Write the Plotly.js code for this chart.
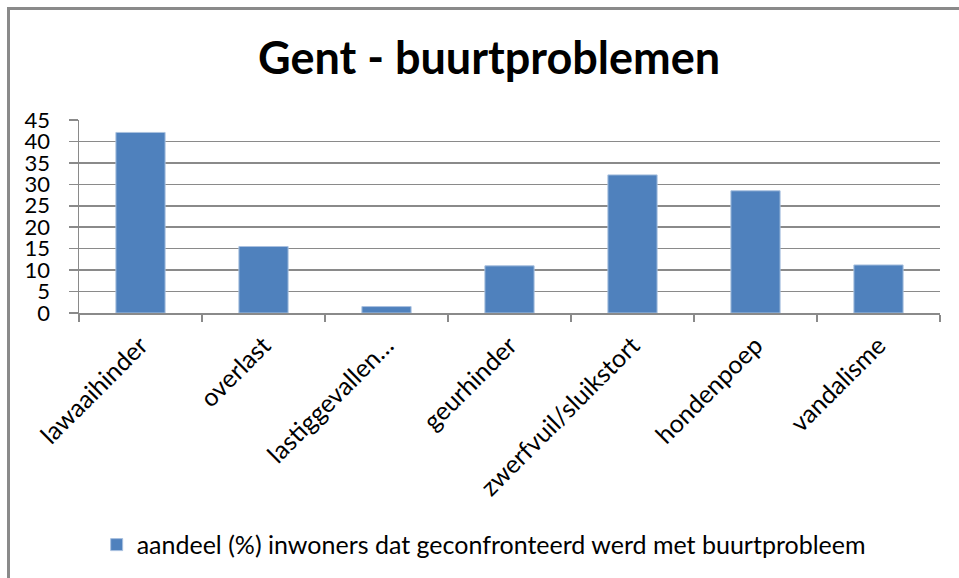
<!DOCTYPE html>
<html>
<head>
<meta charset="utf-8">
<script src="https://cdn.plot.ly/plotly-3.0.1.min.js"></script>
<style>
  html, body { margin: 0; padding: 0; background: #fff; overflow: hidden; }
  #wrap { position: relative; width: 959px; height: 578px; overflow: hidden; }
  #chart { position: absolute; left: 0; top: 0; width: 959px; height: 578px; }
  #frame { position: absolute; left: 7px; top: 7px; width: 1200px; height: 1200px;
           border-left: 3px solid #8a8a8a; border-top: 3px solid #8a8a8a; pointer-events: none; }
</style>
</head>
<body>
<div id="wrap">
  <div id="chart"></div>
  <div id="frame"></div>
</div>
<script>
const categories = ["lawaaihinder", "overlast", "lastiggevallen…", "geurhinder", "zwerfvuil/sluikstort", "hondenpoep", "vandalisme"];
const values = [42.1, 15.5, 1.5, 11.0, 32.2, 28.5, 11.2];
const seriesName = "aandeel (%) inwoners dat geconfronteerd werd met buurtprobleem";
const chartTitle = "Gent - buurtproblemen";

const FONT = "Lato, 'Open Sans', sans-serif";

const trace = {
  type: "bar",
  x: categories,
  y: values,
  name: seriesName,
  width: 0.4,
  marker: { color: "#4F81BD", line: { color: "#a9c1df", width: 1 } },
  showlegend: true,
  hoverinfo: "x+y"
};

const layout = {
  width: 959,
  height: 578,
  paper_bgcolor: "#ffffff",
  plot_bgcolor: "#ffffff",
  margin: { l: 79, r: 19, t: 120, b: 264 },
  font: { family: FONT, color: "#000000", size: 22 },
  title: {
    text: "<b>" + chartTitle + "</b>",
    font: { family: FONT, size: 45, color: "#000000" },
    x: 0.51, xref: "container", xanchor: "center",
    y: 0.900, yref: "container", yanchor: "middle"
  },
  xaxis: {
    type: "category",
    tickangle: -45,
    tickson: "boundaries",
    ticks: "outside",
    ticklen: 7,
    tickwidth: 1.5,
    tickcolor: "#8a8a8a",
    showline: true,
    linecolor: "#8a8a8a",
    linewidth: 2,
    showgrid: false,
    tickfont: { family: FONT, size: 25, color: "#000" },
    ticklabelstandoff: 6
  },
  yaxis: {
    range: [0, 45],
    dtick: 5,
    tick0: 0,
    ticks: "outside",
    ticklen: 9,
    tickwidth: 1.5,
    tickcolor: "#8a8a8a",
    showline: true,
    linecolor: "#8a8a8a",
    linewidth: 1.5,
    showgrid: true,
    gridcolor: "#8a8a8a",
    gridwidth: 1.5,
    zeroline: false,
    tickfont: { family: FONT, size: 22, color: "#000" },
    ticklabelstandoff: 14
  },
  showlegend: true,
  legend: {
    orientation: "h",
    x: 0.47, xanchor: "center",
    y: -1.19, yanchor: "middle",
    font: { family: FONT, size: 25, color: "#000" },
    bgcolor: "rgba(0,0,0,0)"
  },
  bargap: 0.6
};

Plotly.newPlot("chart", [trace], layout, { displayModeBar: false, staticPlot: true });
</script>
</body>
</html>
